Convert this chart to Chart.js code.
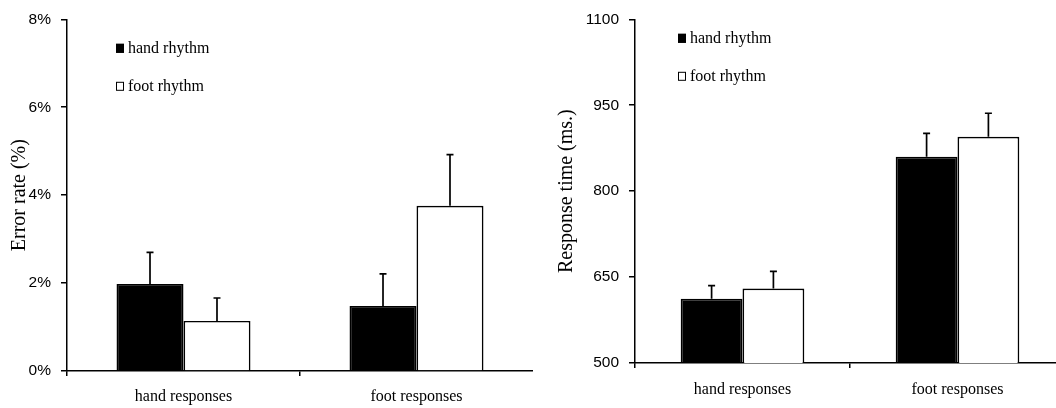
<!DOCTYPE html>
<html>
<head>
<meta charset="utf-8">
<script src="https://cdn.jsdelivr.net/npm/chart.js@4.4.1/dist/chart.umd.min.js"></script>
<style>
    html, body { margin: 0; padding: 0; background: #fff; overflow: hidden; }
    body { width: 1056px; height: 408px; position: relative; }
    #caja1 { position: absolute; left: 0; top: 0; width: 533px; height: 408px; }
    #caja2 { position: absolute; left: 540px; top: 0; width: 525px; height: 408px; }
</style>
</head>
<body>
<div id="caja1"><canvas id="myChart1"></canvas></div>
<div id="caja2"><canvas id="myChart2"></canvas></div>
<script>
const categorias = ['hand responses', 'foot responses'];
const series = ['hand rhythm', 'foot rhythm'];

// Error rate (%)
const errorHand = [1.98, 1.48];
const errorFoot = [1.14, 3.76];
const errorHandSE = [0.72, 0.73];
const errorFootSE = [0.52, 1.16];
const errorTicks = [0, 2, 4, 6, 8];

// Response time (ms.)
const rtHand = [612, 860];
const rtFoot = [630, 895];
const rtHandSE = [23, 41];
const rtFootSE = [30, 41];
const rtTicks = [500, 650, 800, 950, 1100];

// barras de error (solo hacia arriba)
const barrasError = {
    id: 'barrasError',
    afterDatasetsDraw(chart) {
        const ctx = chart.ctx;
        const y = chart.scales.y;
        ctx.save();
        ctx.strokeStyle = '#000';
        ctx.lineWidth = 1.7;
        chart.data.datasets.forEach((ds, i) => {
            chart.getDatasetMeta(i).data.forEach((bar, j) => {
                const tope = y.getPixelForValue(ds.data[j] + ds.errores[j]);
                ctx.beginPath();
                ctx.moveTo(bar.x, bar.y);
                ctx.lineTo(bar.x, tope);
                ctx.moveTo(bar.x - 3.5, tope);
                ctx.lineTo(bar.x + 3.5, tope);
                ctx.stroke();
            });
        });
        ctx.restore();
    }
};

// leyenda dentro del area del grafico
const leyenda = {
    id: 'leyenda',
    afterDraw(chart, args, opts) {
        const ctx = chart.ctx;
        const area = chart.chartArea;
        ctx.save();
        ctx.font = '16px "Liberation Serif", "Times New Roman", serif';
        ctx.textBaseline = 'middle';
        chart.data.datasets.forEach((ds, i) => {
            const x = area.left + opts.x;
            const y = area.top + opts.y + i * opts.gap;
            ctx.fillStyle = ds.backgroundColor;
            ctx.fillRect(x, y - 4.5, 8, 9);
            ctx.strokeStyle = '#000';
            ctx.lineWidth = 1;
            ctx.strokeRect(x + 0.5, y - 4, 7, 8);
            ctx.fillStyle = '#000';
            ctx.fillText(ds.label, x + 12, y);
        });
        ctx.restore();
    }
};

const ejeX = (alto, sep) => ({
    afterFit: (scale) => { scale.height = alto; },
    grid: {
        offset: true,
        drawOnChartArea: false,
        tickLength: 5,
        lineWidth: 1.5,
        color: (c) => c.index === undefined ? 'rgba(0,0,0,0)' : '#000'
    },
    border: { color: '#000', width: 1.5 },
    ticks: { padding: sep, color: '#000', font: { family: '"Liberation Serif", serif', size: 16 } }
});

const ejeY = (ticks, ancho, titulo, tituloSep, sufijo) => ({
    min: ticks[0],
    max: ticks[ticks.length - 1],
    afterBuildTicks: (scale) => { scale.ticks = ticks.map(v => ({ value: v })); },
    afterFit: (scale) => { scale.width = ancho; },
    grid: { drawOnChartArea: false, tickLength: 6, lineWidth: 1.5, color: '#000' },
    border: { color: '#000', width: 1.5 },
    ticks: {
        padding: 10,
        color: '#000',
        font: { family: '"Liberation Sans", Arial, sans-serif', size: 15.5 },
        callback: (v) => v + sufijo
    },
    title: {
        display: true,
        text: titulo,
        color: '#000',
        font: { family: '"Liberation Serif", serif', size: 20 },
        padding: { top: tituloSep, bottom: 0 }
    }
});

const datasets = (a, b, ea, eb) => [{
    label: series[0],
    data: a,
    errores: ea,
    backgroundColor: '#000',
    borderColor: '#000',
    borderWidth: 1.7
}, {
    label: series[1],
    data: b,
    errores: eb,
    backgroundColor: '#fff',
    borderColor: '#000',
    borderWidth: 1.7
}];

var ctx1 = document.getElementById('myChart1').getContext('2d');
var myChart1 = new Chart(ctx1, {
    type: 'bar',
    data: { labels: categorias, datasets: datasets(errorHand, errorFoot, errorHandSE, errorFootSE) },
    options: {
        animation: false,
        responsive: true,
        maintainAspectRatio: false,
        devicePixelRatio: 1,
        categoryPercentage: 0.575,
        barPercentage: 1,
        layout: { padding: { top: 19, left: 0, right: 0, bottom: 0 } },
        plugins: {
            legend: { display: false },
            tooltip: { enabled: false },
            leyenda: { x: 49, y: 29, gap: 38 }
        },
        scales: {
            x: ejeX(37, 11),
            y: ejeY(errorTicks, 67, 'Error rate (%)', 8, '%')
        }
    },
    plugins: [barrasError, leyenda]
});

var ctx2 = document.getElementById('myChart2').getContext('2d');
var myChart2 = new Chart(ctx2, {
    type: 'bar',
    data: { labels: categorias, datasets: datasets(rtHand, rtFoot, rtHandSE, rtFootSE) },
    options: {
        animation: false,
        responsive: true,
        maintainAspectRatio: false,
        devicePixelRatio: 1,
        categoryPercentage: 0.575,
        barPercentage: 1,
        layout: { padding: { top: 19, left: 0, right: 0, bottom: 0 } },
        plugins: {
            legend: { display: false },
            tooltip: { enabled: false },
            leyenda: { x: 43, y: 19, gap: 38 }
        },
        scales: {
            x: ejeX(45, 12),
            y: ejeY(rtTicks, 95, 'Response time (ms.)', 15, '')
        }
    },
    plugins: [barrasError, leyenda]
});
</script>
</body>
</html>
